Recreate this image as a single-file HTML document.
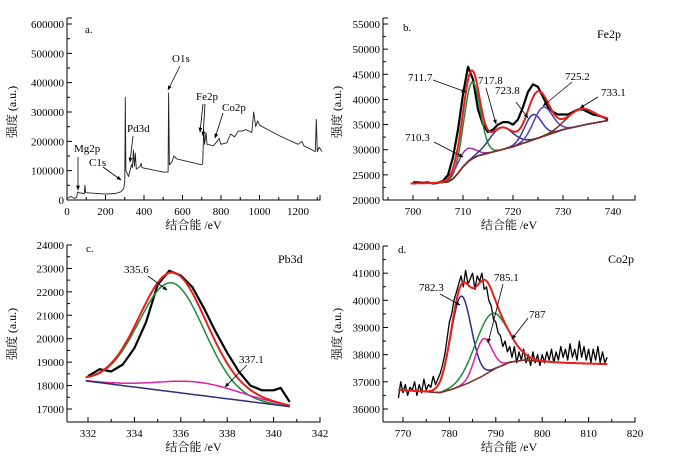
<!DOCTYPE html>
<html><head><meta charset="utf-8">
<style>
html,body{margin:0;padding:0;background:#fff;}
svg{display:block;font-family:"Liberation Serif","Noto Serif CJK SC",serif;}
</style></head>
<body>
<svg id="chart" width="692" height="464" viewBox="0 0 692 464" xmlns="http://www.w3.org/2000/svg">
<defs><marker id="ah" viewBox="0 0 10 10" refX="9" refY="5" markerWidth="6" markerHeight="6" orient="auto"><path d="M0,1 L10,5 L0,9 z" fill="#000"/></marker></defs>
</svg>
<script>
// ---- Panel a: survey ----
const surveyBE=[0,20,40,50,55,60,90,93,97,200,250,280,290,295,300,303,306,320,335,340,345,350,355,360,380,385,390,500,525,528,532,545,555,570,700,705,710,715,722,728,760,780,790,800,830,850,870,890,910,930,960,970,980,990,1000,1100,1200,1220,1230,1290,1295,1300,1310,1325];
const surveyI=[5000,12000,5000,10000,28000,25000,22000,50000,25000,20000,22000,28000,35000,40000,65000,350000,100000,80000,120000,110000,170000,115000,160000,105000,115000,125000,110000,95000,95000,365000,120000,130000,150000,140000,120000,125000,240000,190000,230000,190000,185000,200000,210000,190000,195000,225000,215000,235000,235000,240000,230000,300000,250000,270000,255000,220000,190000,200000,185000,165000,275000,165000,180000,165000];
const surveyXTicks=[0,200,400,600,800,1000,1200];
const surveyYTicks=[0,100000,200000,300000,400000,500000,600000];
// ---- Panel b: Fe2p ----
const feBE=[700,701,702,703,704,705,706,707,708,709,710,711,712,713,714,715,716,717,718,719,720,721,722,723,724,725,726,727,728,729,730,731,732,733,734,735,736,737,738,739];
const feRaw=[23500,23500,23400,23500,23300,23400,23800,25000,28500,34000,41000,46500,44000,38000,35000,33500,34000,35000,35500,35500,35000,36000,38500,41500,43000,42500,40500,38500,37500,37000,37000,37000,37500,38000,38000,37500,37000,36800,36500,36000];
const feBgBE=[700,705,707,708,709,710,711,712,713,715,720,725,730,735,739];
const feBg=[23300,23400,23600,24200,25300,26600,27600,28300,28800,29300,30600,32300,34000,35100,35800];
const feCenters=[711.8,710.4,717.6,724.0,726.0,733.5];
const feHeights=[15300,2800,4400,5000,5800,3300];
const feWidths=[1.6,1.8,2.4,1.7,1.9,2.8];
const feXTicks=[700,710,720,730,740];
const feYTicks=[20000,25000,30000,35000,40000,45000,50000,55000];
// ---- Panel c: Pb3d ----
const pbBE=[332,332.5,333,333.5,334,334.5,335,335.5,336,336.5,337,337.5,338,338.5,339,339.5,340,340.3,340.7];
const pbRaw=[18400,18700,18600,18900,19600,20700,22300,22900,22700,22200,21300,20300,19400,18600,18000,17800,17800,17900,17300];
const pbBgBE=[331.9,340.7];
const pbBg=[18200,17100];
const pbCenters=[335.6,336.8];
const pbHeights=[4650,550];
const pbWidths=[1.4,1.8];
const pbXTicks=[332,334,336,338,340,342];
const pbYTicks=[17000,18000,19000,20000,21000,22000,23000,24000];
// ---- Panel d: Co2p ----
const coStart=769, coStep=0.5;
const coRaw=[36400,37000,36600,36900,36500,36800,36700,37000,36500,36900,36600,37100,36700,36900,36800,37200,36900,37100,37300,
37600,38000,38600,39200,39500,40000,40300,40600,40900,40500,41100,40600,40800,41000,40400,40900,40700,41000,40400,40500,40000,39800,39300,39200,
38800,38700,38300,38500,38100,38300,37900,38300,37700,38100,37800,38200,37700,38000,37600,38100,37700,38000,37600,38000,37700,38100,37800,38200,37700,38100,37800,38300,37900,38200,37800,38400,37900,38200,37800,38500,37900,38300,37800,38200,37700,38200,37800,38300,37700,38100,37700,37900];
const coBgBE=[769,774,778,781,784,787,790,793,796,800,805,814];
const coBg=[36700,36650,36600,36750,36950,37200,37500,37720,37800,37750,37700,37650];
const coCenters=[782.5,789.0,787.3];
const coHeights=[3300,2100,1350];
const coWidths=[2.2,3.5,1.8];
const coXTicks=[770,780,790,800,810,820];
const coYTicks=[36000,37000,38000,39000,40000,41000,42000];

const svg=document.getElementById('chart');
const NS='http://www.w3.org/2000/svg';
function mk(tag,attrs,parent){const e=document.createElementNS(NS,tag);for(const k in attrs)e.setAttribute(k,attrs[k]);(parent||svg).appendChild(e);return e;}
function lin(d0,d1,r0,r1){return v=>r0+(v-d0)*(r1-r0)/(d1-d0);}
function interp(xs,ys,x){if(x<=xs[0])return ys[0];for(let i=1;i<xs.length;i++){if(x<=xs[i]){const t=(x-xs[i-1])/(xs[i]-xs[i-1]);return ys[i-1]+t*(ys[i]-ys[i-1]);}}return ys[ys.length-1];}
function gauss(x,c,h,w){return h*Math.exp(-(x-c)*(x-c)/(2*w*w));}
function poly(g,xs,ys,sx,sy,color,width,name){
  const pts=xs.map((x,i)=>sx(x).toFixed(1)+','+sy(ys[i]).toFixed(1)).join(' ');
  const p=mk('polyline',{points:pts,fill:'none',stroke:color,'stroke-width':width,'stroke-linejoin':'round'},g);
  
  
  return p;
}
function axes(g,o){
  const {x0,x1,y0,y1,sx,sy,xt,yt,xminor,yminor}=o;
  const ax=mk('path',{d:`M${x0},${y0} L${x0},${y1} M${x0},${y0} L${x1},${y0} L${x1},${y0-5}`,stroke:'#000','stroke-width':1,fill:'none'},g);
  
  
  mk('line',{x1:x0,y1:y1,x2:x0+5,y2:y1,stroke:'#000'},g);
  xt.forEach(v=>{const x=sx(v);mk('line',{x1:x,y1:y0,x2:x,y2:y0-5,stroke:'#000'},g);
    const t=mk('text',{x:x,y:y0+15,'text-anchor':'middle','font-size':11},g);t.textContent=v;
    
    });
  xminor.forEach(v=>{const x=sx(v);mk('line',{x1:x,y1:y0,x2:x,y2:y0-3,stroke:'#000'},g);});
  yt.forEach(v=>{const y=sy(v);mk('line',{x1:x0,y1:y,x2:x0+5,y2:y,stroke:'#000'},g);
    const t=mk('text',{x:x0-3,y:y+4,'text-anchor':'end','font-size':11},g);t.textContent=v;
    
    });
  yminor.forEach(v=>{const y=sy(v);mk('line',{x1:x0,y1:y,x2:x0+3,y2:y,stroke:'#000'},g);});
  const xl=mk('text',{x:(x0+x1)/2,y:y0+29,'text-anchor':'middle','font-size':12},g);xl.textContent='结合能 /eV';
  
  
}
function ylabel(x,y){const t=mk('text',{x:0,y:0,transform:`translate(${x},${y}) rotate(-90)`,'text-anchor':'middle','font-size':12});t.textContent='强度 (a.u.)';
  
  }
function label(g,x,y,s,name,size){const t=mk('text',{x:x,y:y,'font-size':size||11},g);t.textContent=s;
  
  }
function arrow(g,x1,y1,x2,y2){const l=mk('line',{x1,y1,x2,y2,stroke:'#000','stroke-width':0.8,'marker-end':'url(#ah)'},g);
  
  }
function range(a,b,s){const r=[];for(let v=a;v<=b+1e-9;v+=s)r.push(+v.toFixed(3));return r;}
function fitPanel(g,sx,sy,bgBE,bg,cs,hs,ws,colors,lo,hi,bgColor,names){
  const xs=range(lo,hi,0.1);
  const base=xs.map(x=>interp(bgBE,bg,x));
  cs.forEach((c,i)=>{poly(g,xs,xs.map((x,j)=>base[j]+gauss(x,c,hs[i],ws[i])),sx,sy,colors[i],1.5,names[i]);});
  poly(g,xs,base,sx,sy,bgColor,1.5,'background-curve');
  return xs.map((x,j)=>base[j]+cs.reduce((s,c,i)=>s+gauss(x,c,hs[i],ws[i]),0));
}

// Panel a
{const g=mk('g',{});
 const sx=lin(0,1200,67,298), sy=lin(0,600000,200,24);
 poly(g,surveyBE,surveyI,sx,sy,'#222',0.9,'survey-spectrum');
 axes(g,{x0:67,x1:320,y0:200,y1:18,sx,sy,xt:surveyXTicks,yt:surveyYTicks,xminor:range(100,1300,200),yminor:range(50000,550000,100000)});
 label(g,85,33,'a.','panel-label-a');
 label(g,74,152,'Mg2p','label-mg2p');arrow(g,78,157,78,190);
 label(g,89,166,'C1s','label-c1s');arrow(g,103,167,121,180);
 label(g,127,132,'Pd3d','label-pd3d');arrow(g,133,136,130,162);
 label(g,172,62,'O1s','label-o1s');arrow(g,180,66,168,90);
 label(g,196,100,'Fe2p','label-fe2p');arrow(g,203,104,200,132);arrow(g,205,104,203,136);
 label(g,222,111,'Co2p','label-co2p');arrow(g,223,113,215,138);
 ylabel(16,112);}

// Panel b
{const g=mk('g',{});
 const sx=lin(700,740,413,613), sy=lin(20000,55000,200,24);
 poly(g,feBE,feRaw,sx,sy,'#000',2.2,'fe2p-raw-data');
 const env=fitPanel(g,sx,sy,feBgBE,feBg,feCenters,feHeights,feWidths,['#1a8c3c','#a030a0','#2a3a80','#3a36b0','#5a3ac0','#7a3020'],699.5,739,'#7a3020',['peak-711.7','peak-710.3','peak-717.8','peak-723.8','peak-725.2','peak-733.1']);
 poly(g,range(699.5,739,0.1),env,sx,sy,'#e8201c',2,'fe2p-envelope');
 axes(g,{x0:383,x1:635,y0:200,y1:18,sx,sy,xt:feXTicks,yt:feYTicks,xminor:range(695,745,10).filter(v=>v<=744),yminor:range(22500,52500,5000)});
 label(g,403,31,'b.','panel-label-b');label(g,597,38,'Fe2p','element-fe2p',12);
 label(g,408,81,'711.7','ann-711.7');arrow(g,433,80,466,92);
 label(g,478,84,'717.8','ann-717.8');arrow(g,486,88,496,124);
 label(g,495,94,'723.8','ann-723.8');arrow(g,516,102,528,118);
 label(g,565,80,'725.2','ann-725.2');arrow(g,572,82,543,106);
 label(g,601,96,'733.1','ann-733.1');arrow(g,598,97,580,108);
 label(g,405,141,'710.3','ann-710.3');arrow(g,434,142,463,157);
 ylabel(341,112);}

// Panel c
{const g=mk('g',{});
 const sx=lin(332,342,88,320), sy=lin(17000,24000,409,245);
 poly(g,pbBE,pbRaw,sx,sy,'#000',2.2,'pb3d-raw-data');
 const env=fitPanel(g,sx,sy,pbBgBE,pbBg,pbCenters,pbHeights,pbWidths,['#1a8c3c','#e020a0'],331.9,340.7,'#303070',['peak-335.6','peak-337.1']);
 poly(g,range(331.9,340.7,0.1),env,sx,sy,'#e8201c',2,'pb3d-envelope');
 axes(g,{x0:67,x1:320,y0:422,y1:245,sx,sy,xt:pbXTicks,yt:pbYTicks,xminor:range(333,341,2),yminor:range(17500,23500,1000)});
 label(g,86,252,'c.','panel-label-c');label(g,278,263,'Pb3d','element-pb3d',12);
 label(g,124,273,'335.6','ann-335.6');arrow(g,148,276,167,290);
 label(g,239,363,'337.1','ann-337.1');arrow(g,247,365,225,387);
 ylabel(16,334);}

// Panel d
{const g=mk('g',{});
 const sx=lin(770,820,403,635), sy=lin(36000,42000,409,246);
 const coBE=coRaw.map((_,i)=>coStart+i*coStep);
 poly(g,coBE,coRaw,sx,sy,'#000',1.3,'co2p-raw-data');
 const env=fitPanel(g,sx,sy,coBgBE,coBg,coCenters,coHeights,coWidths,['#2a2a90','#1a8c3c','#e020a0'],769,814,'#7a3020',['peak-782.3','peak-787','peak-785.1']);
 poly(g,range(769,814,0.1),env,sx,sy,'#e8201c',2,'co2p-envelope');
 axes(g,{x0:383,x1:635,y0:422,y1:246,sx,sy,xt:coXTicks,yt:coYTicks,xminor:range(775,815,10),yminor:range(36500,41500,1000)});
 label(g,398,253,'d.','panel-label-d');label(g,608,263,'Co2p','element-co2p',12);
 label(g,419,291,'782.3','ann-782.3');arrow(g,440,294,460,305);
 label(g,494,281,'785.1','ann-785.1');arrow(g,503,284,488,343);
 label(g,529,318,'787','ann-787');arrow(g,528,318,512,339);
 ylabel(341,334);}
</script>
</body></html>
